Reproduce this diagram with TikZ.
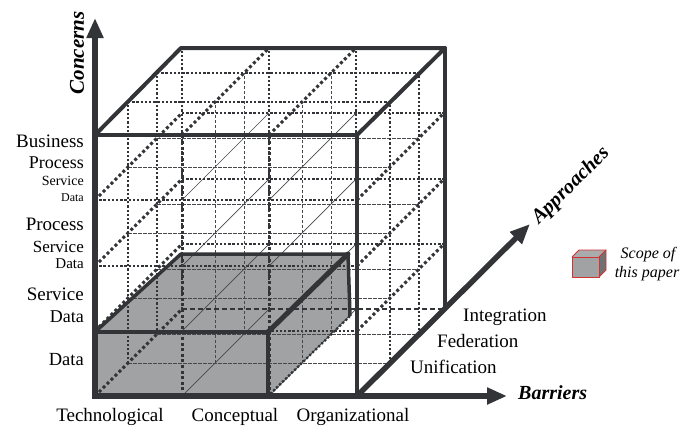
\documentclass[tikz,border=0pt]{standalone}
\usepackage{fontspec}
\setmainfont{Liberation Serif}
\usetikzlibrary{arrows.meta}
\definecolor{dk}{RGB}{50,52,55}
\definecolor{boxgray}{RGB}{160,162,163}
\definecolor{legred}{RGB}{210,50,50}
\tikzset{
  dotA/.style={dk, line width=2.3pt, dash pattern=on 2.3pt off 1.9pt},
  dotB/.style={dk, line width=3pt, dash pattern=on 3pt off 2.6pt},
  thinD/.style={dk!90, line width=0.9pt, dash pattern=on 3.5pt off 1.5pt},
  thinS/.style={dk!90, line width=0.7pt},
  edge/.style={dk, line width=4pt, line cap=round, line join=round},
  axis/.style={dk, line width=5.5pt, -{Triangle[length=20pt,width=16pt]}},
  lab/.style={inner sep=0pt, anchor=base east},
}
\begin{document}
\begin{tikzpicture}[x=1pt,y=-1pt]
\useasboundingbox (0,0) rectangle (697,426);
% scope box fill
\fill[boxgray] (95,332) -- (181,254) -- (348,254) -- (350,316) -- (268,396) -- (95,396) -- cycle;
% grid: horizontal lines
\foreach \Y in {331,266,200} \draw[dotA] (95,\Y) -- (357,\Y);
\foreach \d in {33,62} {
  \foreach \Y in {396,331,266,200} \draw[thinD] ({95+\d},{\Y-\d}) -- ({357+\d},{\Y-\d});
  \draw[dotA] ({95+\d},{135-\d}) -- ({357+\d},{135-\d});
}
\foreach \Y in {331,266,200} \draw[dotA] (182,{\Y-87}) -- (444,{\Y-87});
\draw[dk, line width=2.8pt, dash pattern=on 5pt off 3pt] (182,309) -- (444,309);
% grid: vertical lines
\foreach \X in {182,269} \draw[dotB] (\X,396) -- (\X,135);
\foreach \d in {33,62} {
  \foreach \X in {95,357} \draw[dotA] ({\X+\d},{396-\d}) -- ({\X+\d},{135-\d});
  \foreach \X in {182,269} \draw[thinD] ({\X+\d},{396-\d}) -- ({\X+\d},{135-\d});
}
\foreach \X in {95,182,269} \draw[dotA] ({\X+87},309) -- ({\X+87},48);
% grid: depth lines
\foreach \Y in {396,331,266,200} {
  \draw[dotB] (95,\Y) -- (182,{\Y-87});
  \draw[thinS] (182,\Y) -- (269,{\Y-87});
  \draw[thinS] (269,\Y) -- (356,{\Y-87});
}
\foreach \Y in {331,266,200} \draw[dotB] (357,\Y) -- (444,{\Y-87});
\foreach \X in {182,269} \draw[dotB] (\X,135) -- ({\X+87},48);
% scope box edges
\draw[dk, line width=3.5pt, line join=round] (95,332) -- (268,332) -- (268,396);
\draw[dk, line width=3.5pt, line join=round] (95,332) -- (181,254) -- (348,254) -- (350,316);
\draw[dk, line width=5pt, line cap=round] (268,332) -- (348,254);
\draw[dotA] (350,316) -- (268,396);
% cube edges
\draw[edge] (95,135) -- (357,135) -- (357,396);
\draw[edge] (95,135) -- (181,48) -- (445,48) -- (357,135);
\draw[edge] (445,48) -- (445,309);
% axes
\coordinate (o) at (95,396);
\coordinate (cTip) at (95,18);
\coordinate (bTip) at (507,396);
\coordinate (aStart) at (357,396);
\coordinate (aTip) at (530,224);
\draw[axis] (95,399) -- (cTip);
\draw[axis] (92,396) -- (bTip);
\draw[axis] (aStart) -- (aTip);
% concern labels
\node[lab, font=\fontsize{19}{19}\selectfont] (l1) at (84,147) {Business};
\node[lab, font=\fontsize{18}{18}\selectfont] (l2) at (84,168) {Process};
\node[lab, font=\fontsize{14}{14}\selectfont] (l3) at (84,185) {Service};
\node[lab, font=\fontsize{12}{12}\selectfont] (l4) at (84,201) {Data};
\node[lab, font=\fontsize{19}{19}\selectfont] (l5) at (84,230) {Process};
\node[lab, font=\fontsize{17}{17}\selectfont] (l6) at (84,252) {Service};
\node[lab, font=\fontsize{15}{15}\selectfont] (l7) at (84,268) {Data};
\node[lab, font=\fontsize{19}{19}\selectfont] (l8) at (84,300) {Service};
\node[lab, font=\fontsize{18}{18}\selectfont] (l9) at (84,322) {Data};
\node[lab, font=\fontsize{18.5}{18.5}\selectfont] (l10) at (84,365) {Data};
% barrier labels
\node[inner sep=0pt, anchor=base, font=\fontsize{19}{19}\selectfont] (b1) at (110,421) {Technological};
\node[inner sep=0pt, anchor=base, font=\fontsize{19}{19}\selectfont] (b2) at (235,421) {Conceptual};
\node[inner sep=0pt, anchor=base, font=\fontsize{19}{19}\selectfont] (b3) at (353,421) {Organizational};
% approach labels
\node[inner sep=0pt, anchor=base west, font=\fontsize{19}{19}\selectfont] (a1) at (463,321) {Integration};
\node[inner sep=0pt, anchor=base west, font=\fontsize{19}{19}\selectfont] (a2) at (437,347) {Federation};
\node[inner sep=0pt, anchor=base west, font=\fontsize{19}{19}\selectfont] (a3) at (410,373) {Unification};
% axis titles
\node[inner sep=0pt, anchor=base west, font=\fontsize{20}{20}\selectfont\bfseries\itshape] (tb) at (518,399) {Barriers};
\node[inner sep=0pt, rotate=90, font=\fontsize{21}{21}\selectfont\bfseries\itshape] (tc) at (77,53) {Concerns};
\node[inner sep=0pt, rotate=45, font=\fontsize{20.5}{20.5}\selectfont\bfseries\itshape] (ta) at (571,186) {Approaches};
% legend
\fill[boxgray!70!black] (599,257) -- (606,250) -- (606,270) -- (599,277) -- cycle;
\fill[boxgray!90!white] (572,257) -- (579,250) -- (606,250) -- (599,257) -- cycle;
\fill[boxgray] (572,257) rectangle (599,277);
\draw[legred, line width=0.8pt, line join=round] (572,257) rectangle (599,277);
\draw[legred, line width=0.8pt, line join=round] (572,257) -- (579,250) -- (606,250) -- (606,270) -- (599,277);
\draw[legred, line width=0.8pt] (599,257) -- (606,250);
\node[inner sep=0pt, font=\fontsize{16}{16}\selectfont\itshape] (s1) at (648,255) {Scope of};
\node[inner sep=0pt, font=\fontsize{16}{16}\selectfont\itshape] (s2) at (647,274) {this paper};
\end{tikzpicture}
\end{document}
